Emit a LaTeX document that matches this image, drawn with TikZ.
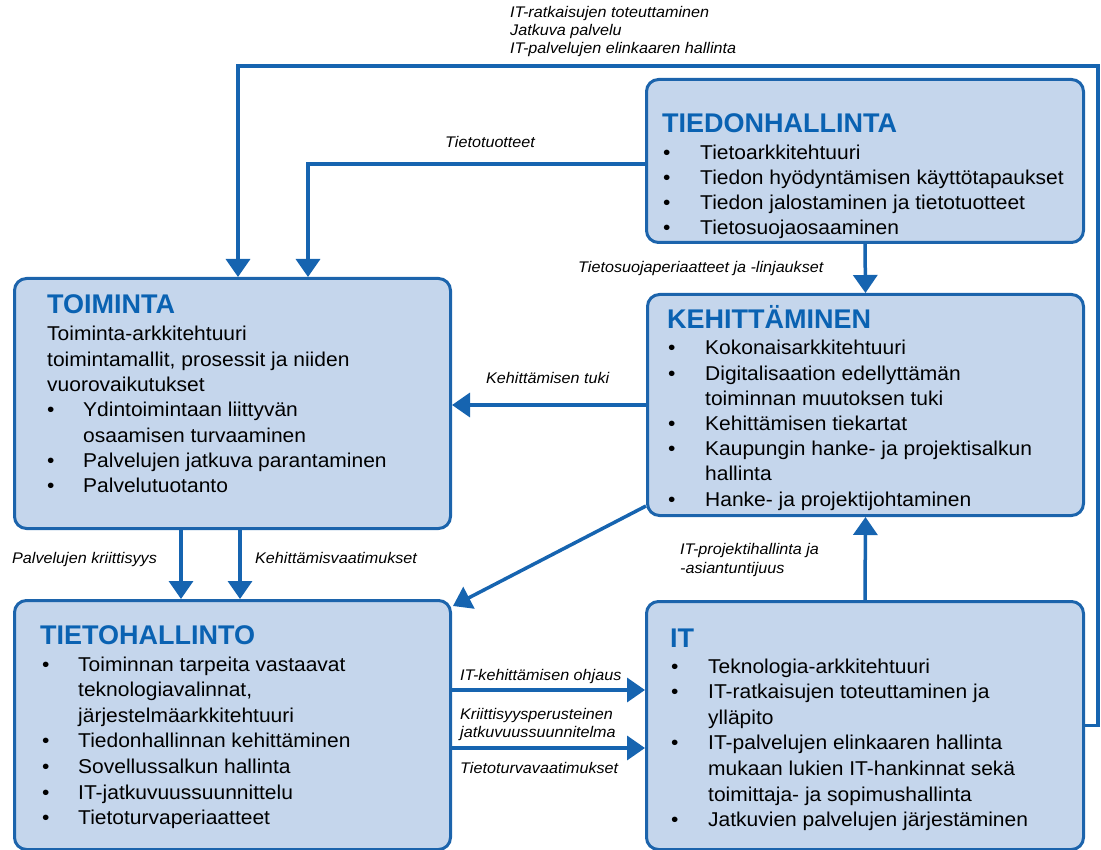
\documentclass[tikz,border=0pt]{standalone}
\usepackage{fontspec}
\setmainfont{Liberation Sans}
\newfontfamily\bodyfont{Liberation Sans}[FakeStretch=1.05,WordSpace=1.3]
\newfontfamily\labfont{Liberation Sans}[FakeStretch=1.05]
\usetikzlibrary{arrows.meta}
\definecolor{boxfill}{RGB}{197,214,236}
\definecolor{boxline}{RGB}{28,100,172}
\definecolor{titleblue}{RGB}{10,98,178}
\definecolor{arrowblue}{RGB}{22,100,176}
\newlength\bind
\setlength\bind{36pt}
\newcommand\bl[1]{\hbox{\hbox to\bind{\textbullet\hss}#1}}
\newcommand\cl[1]{\hbox{\hskip\bind #1}}
\newcommand\pl[1]{\hbox{#1}}
\newcommand\blocktext[2]{\vtop{\baselineskip=#1\lineskiplimit=-20pt #2}}
\tikzset{
  box/.style={draw=boxline, line width=3pt, fill=boxfill, rounded corners=12pt,
    inner sep=0pt, anchor=north west},
  ttl/.style={anchor=base west, inner sep=0pt, text=titleblue,
    font=\bfseries\fontsize{27}{30}\selectfont},
  txt/.style={anchor=base west, inner sep=0pt,
    font=\bodyfont\fontsize{20}{25}\selectfont},
  lab/.style={anchor=base west, inner sep=0pt,
    font=\labfont\itshape\fontsize{15.4}{18}\selectfont},
  arr/.style={draw=arrowblue, line width=3.5pt,
    -{Triangle[width=24pt,length=18pt]}},
}
\begin{document}
\begin{tikzpicture}[x=1pt,y=-1pt]
\useasboundingbox (0,0) rectangle (1101,850);
% boxes
\node[box, minimum width=437, minimum height=163] (tied) at (645,78) {};
\node[box, minimum width=436, minimum height=250] (toim) at (13,277) {};
\node[box, minimum width=436, minimum height=221] (keh) at (646,293) {};
\node[box, minimum width=436, minimum height=249] (tiet) at (13,599) {};
\node[box, minimum width=437, minimum height=248] (it) at (645,600) {};
% titles
\node[ttl] (tiedT) at (662,133) {TIEDONHALLINTA};
\node[ttl] (toimT) at (47,314) {TOIMINTA};
\node[ttl] (kehT) at (667,329) {KEHITTÄMINEN};
\node[ttl] (tietT) at (40,644) {TIETOHALLINTO};
\node[ttl] (itT) at (670,647) {IT};
% texts
\node[txt] (tiedX) at (663,160) {\setlength\bind{37pt}\blocktext{25pt}{%
  \bl{Tietoarkkitehtuuri}\bl{Tiedon hyödyntämisen käyttötapaukset}%
  \bl{Tiedon jalostaminen ja tietotuotteet}\bl{Tietosuojaosaaminen}}};
\node[txt] (toimX) at (47,341) {\setlength\bind{36pt}\blocktext{25.3pt}{%
  \pl{Toiminta-arkkitehtuuri}\pl{toimintamallit, prosessit ja niiden}%
  \pl{vuorovaikutukset}\bl{Ydintoimintaan liittyvän}\cl{osaamisen turvaaminen}%
  \bl{Palvelujen jatkuva parantaminen}\bl{Palvelutuotanto}}};
\node[txt] (kehX) at (668,355) {\setlength\bind{37pt}\blocktext{25.2pt}{%
  \bl{Kokonaisarkkitehtuuri}\bl{Digitalisaation edellyttämän}%
  \cl{toiminnan muutoksen tuki}\bl{Kehittämisen tiekartat}%
  \bl{Kaupungin hanke- ja projektisalkun}\cl{hallinta}%
  \bl{Hanke- ja projektijohtaminen}}};
\node[txt] (tietX) at (42,671) {\setlength\bind{36pt}\blocktext{25.6pt}{%
  \bl{Toiminnan tarpeita vastaavat}\cl{teknologiavalinnat,}%
  \cl{järjestelmäarkkitehtuuri}\bl{Tiedonhallinnan kehittäminen}%
  \bl{Sovellussalkun hallinta}\bl{IT-jatkuvuussuunnittelu}%
  \bl{Tietoturvaperiaatteet}}};
\node[txt] (itX) at (671,673) {\setlength\bind{37pt}\blocktext{25.6pt}{%
  \bl{Teknologia-arkkitehtuuri}\bl{IT-ratkaisujen toteuttaminen ja}%
  \cl{ylläpito}\bl{IT-palvelujen elinkaaren hallinta}%
  \cl{mukaan lukien IT-hankinnat sekä}\cl{toimittaja- ja sopimushallinta}%
  \bl{Jatkuvien palvelujen järjestäminen}}};
% helper coordinates
\coordinate (loopR) at (1098,66);
\coordinate (loopL) at (238,66);
\coordinate (ttx) at (308,164);
\coordinate (d1) at (181,0);
\coordinate (d2) at (240,0);
\coordinate (ra) at (0,690);
\coordinate (rb) at (0,748);
% connectors
\draw[arr] (it.east) -| (loopR) -- (loopL) -- (loopL |- toim.north);
\draw[arr] (tied.west |- ttx) -| (ttx |- toim.north);
\draw[arr] (tied.south) -- (keh.north);
\draw[arr] (keh.west) -- (keh.west -| toim.east);
\draw[arr] (toim.south -| d1) -- (tiet.north -| d1);
\draw[arr] (toim.south -| d2) -- (tiet.north -| d2);
\draw[arr] ([yshift=11pt]keh.south west) -- ([xshift=1pt,yshift=-7pt]tiet.north east);
\draw[arr] (tiet.east |- ra) -- (it.west |- ra);
\draw[arr] (tiet.east |- rb) -- (it.west |- rb);
\draw[arr] (it.north) -- (keh.south);
% labels
\node[lab] (l1) at (510,18) {\vtop{\baselineskip=18pt \hbox{IT-ratkaisujen toteuttaminen}\hbox{Jatkuva palvelu}\hbox{IT-palvelujen elinkaaren hallinta}}};
\node[lab] (l2) at (445,148) {Tietotuotteet};
\node[lab] (l3) at (578,273) {Tietosuojaperiaatteet ja -linjaukset};
\node[lab] (l4) at (486,384) {Kehittämisen tuki};
\node[lab] (l5) at (12,563) {Palvelujen kriittisyys};
\node[lab] (l6) at (255,563) {Kehittämisvaatimukset};
\node[lab] (l7) at (460,680) {IT-kehittämisen ohjaus};
\node[lab] (l8) at (460,719) {\vtop{\baselineskip=18pt \hbox{Kriittisyysperusteinen}\hbox{jatkuvuussuunnitelma}}};
\node[lab] (l9) at (460,773) {Tietoturvavaatimukset};
\node[lab] (l10) at (680,554) {\vtop{\baselineskip=19pt \hbox{IT-projektihallinta ja}\hbox{-asiantuntijuus}}};
\end{tikzpicture}
\end{document}
